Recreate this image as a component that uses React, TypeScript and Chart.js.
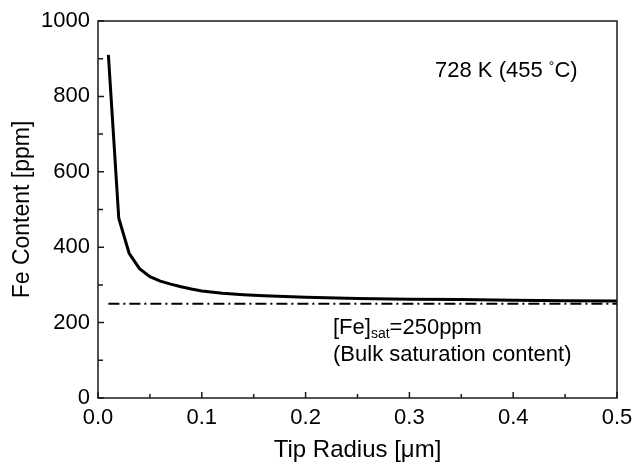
import React, { useEffect, useRef } from "react";
import { Chart, registerables } from "chart.js";

Chart.register(...registerables);

// Tip radius [µm] and Fe content [ppm]
const radius = [0.01, 0.02, 0.03, 0.04, 0.05, 0.06, 0.07, 0.08, 0.09, 0.1, 0.12, 0.14, 0.16, 0.18, 0.2, 0.25, 0.3, 0.35, 0.4, 0.45, 0.5];
const feContent = [910, 477, 384, 343, 322, 310, 302, 295, 289, 284, 278, 274, 271, 269, 267, 264, 262, 261, 259, 258, 257];

// Bulk saturation content line
const satRadius = [0.01, 0.5];
const satContent = [250, 250];

// Axis settings
const xMin = 0;
const xMax = 0.5;
const xStep = 0.05;
const yMin = 0;
const yMax = 1000;
const yStep = 100;

const xTitle = "Tip Radius [\u03BCm]";
const yTitle = "Fe Content [ppm]";
const tempLabel = ["728 K (455 ", "\u00B0", "C)"];
const satLabel = ["[Fe]", "sat", "=250ppm"];
const satNote = "(Bulk saturation content)";

const FONT = "'Liberation Sans', Arial, Helvetica, sans-serif";

const isMajorX = (v: number) => Math.abs(v * 10 - Math.round(v * 10)) < 1e-6;
const isMajorY = (v: number) => Math.abs(v / 200 - Math.round(v / 200)) < 1e-6;

const framePlugin = {
  id: "frameAndTicks",
  afterDraw(chart: any) {
    const { ctx, chartArea } = chart;
    const { left, right, top, bottom } = chartArea;
    const xs = chart.scales.x;
    const ys = chart.scales.y;
    ctx.save();
    ctx.strokeStyle = "#1a1a1a";
    ctx.lineWidth = 1.5;
    ctx.beginPath();
    xs.ticks.forEach((t: any) => {
      const px = xs.getPixelForValue(t.value);
      const len = isMajorX(t.value) ? 6 : 4;
      ctx.moveTo(px, bottom);
      ctx.lineTo(px, bottom - len);
    });
    ys.ticks.forEach((t: any) => {
      const py = ys.getPixelForValue(t.value);
      const len = isMajorY(t.value) ? 6 : 5;
      ctx.moveTo(left, py);
      ctx.lineTo(left + len, py);
    });
    ctx.stroke();
    ctx.strokeRect(left, top, right - left, bottom - top);

    // annotations
    ctx.fillStyle = "#000";
    ctx.textBaseline = "alphabetic";
    ctx.textAlign = "left";
    const big = `22px ${FONT}`;
    const small = `14px ${FONT}`;

    let x = xs.getPixelForValue(0.3247);
    let y = ys.getPixelForValue(851);
    ctx.font = big;
    ctx.fillText(tempLabel[0], x, y);
    x += ctx.measureText(tempLabel[0]).width;
    ctx.font = small;
    ctx.fillText(tempLabel[1], x, y - 6);
    x += ctx.measureText(tempLabel[1]).width;
    ctx.font = big;
    ctx.fillText(tempLabel[2], x, y);

    x = xs.getPixelForValue(0.2264);
    y = ys.getPixelForValue(170);
    ctx.font = big;
    ctx.fillText(satLabel[0], x, y);
    x += ctx.measureText(satLabel[0]).width;
    ctx.font = small;
    ctx.fillText(satLabel[1], x, y + 4);
    x += ctx.measureText(satLabel[1]).width;
    ctx.font = big;
    ctx.fillText(satLabel[2], x, y);

    x = xs.getPixelForValue(0.2264);
    y = ys.getPixelForValue(98);
    ctx.fillText(satNote, x, y);
    ctx.restore();
  },
};

export default function App() {
  const ref = useRef<HTMLCanvasElement | null>(null);

  useEffect(() => {
    if (!ref.current) return;
    const chart = new Chart(ref.current, {
      type: "line",
      data: {
        datasets: [
          {
            data: radius.map((r, i) => ({ x: r, y: feContent[i] })),
            borderColor: "#000",
            borderWidth: 3,
            pointRadius: 0,
            tension: 0,
            fill: false,
          },
          {
            data: satRadius.map((r, i) => ({ x: r, y: satContent[i] })),
            borderColor: "#000",
            borderWidth: 2,
            borderDash: [11, 4, 2, 4],
            pointRadius: 0,
            tension: 0,
            fill: false,
          },
        ],
      },
      options: {
        animation: false,
        responsive: true,
        maintainAspectRatio: false,
        layout: { padding: { top: 21, right: 16, bottom: 0, left: 0 } },
        plugins: { legend: { display: false }, tooltip: { enabled: false } },
        scales: {
          x: {
            type: "linear",
            min: xMin,
            max: xMax,
            grid: { display: false, drawTicks: false },
            border: { display: false },
            ticks: {
              stepSize: xStep,
              padding: 7,
              color: "#000",
              font: { family: FONT, size: 22 },
              maxRotation: 0,
              autoSkip: false,
              callback: (v: any) => (isMajorX(Number(v)) ? Number(v).toFixed(1) : ""),
            },
            title: {
              display: true,
              text: xTitle,
              color: "#000",
              font: { family: FONT, size: 24 },
              padding: { top: 0, bottom: 3 },
            },
            afterFit: (s: any) => {
              s.height = 70;
              s.paddingLeft = 0;
              s.paddingRight = 0;
            },
          },
          y: {
            type: "linear",
            min: yMin,
            max: yMax,
            grid: { display: false, drawTicks: false },
            border: { display: false },
            ticks: {
              stepSize: yStep,
              padding: 8,
              color: "#000",
              font: { family: FONT, size: 22 },
              autoSkip: false,
              callback: (v: any) => (isMajorY(Number(v)) ? String(v) : ""),
            },
            title: {
              display: true,
              text: yTitle,
              color: "#000",
              font: { family: FONT, size: 23 },
              padding: { top: 9, bottom: 0 },
            },
            afterFit: (s: any) => {
              s.width = 98;
              s.paddingTop = 0;
              s.paddingBottom = 0;
            },
          },
        },
      },
      plugins: [framePlugin],
    });
    return () => chart.destroy();
  }, []);

  return (
    <div style={{ position: "absolute", left: 0, top: 0, width: 633, height: 468, background: "#fff" }}>
      <canvas ref={ref} />
    </div>
  );
}
